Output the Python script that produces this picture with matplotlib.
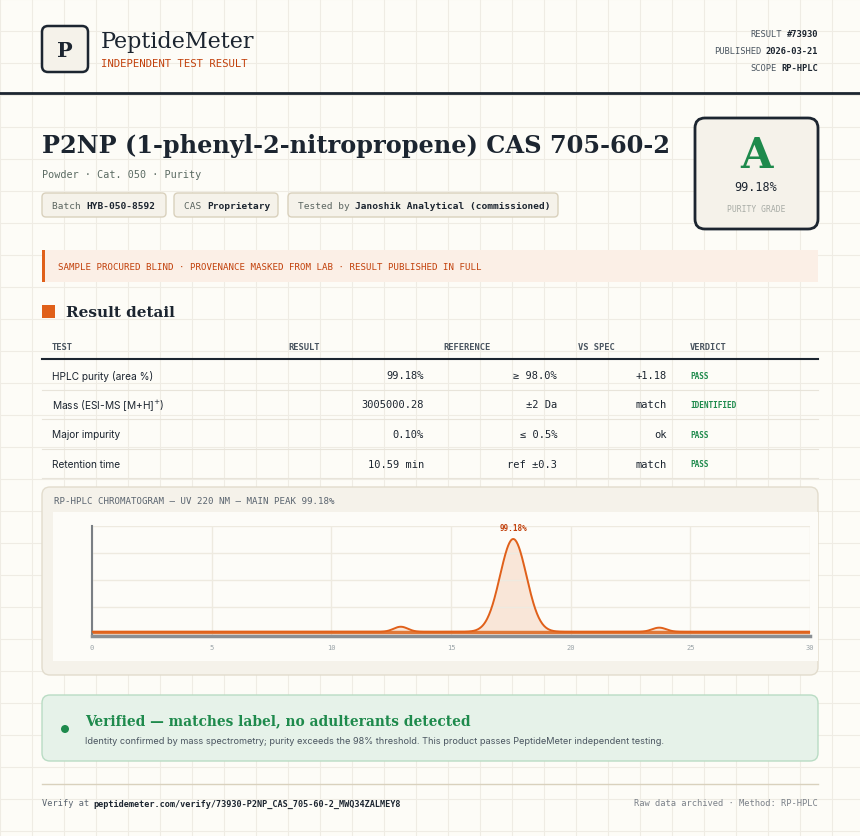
import numpy as np
import matplotlib.pyplot as plt
from matplotlib.patches import FancyBboxPatch, Rectangle, Circle

# ---- data ----
header_meta = [("RESULT", "#73930"), ("PUBLISHED", "2026-03-21"), ("SCOPE", "RP-HPLC")]
chips = [("Batch ", "HYB-050-8592"), ("CAS ", "Proprietary"), ("Tested by ", "Janoshik Analytical (commissioned)")]
table_cols = ["TEST", "RESULT", "REFERENCE", "VS SPEC", "VERDICT"]
tests = ["HPLC purity (area %)", "Mass (ESI-MS [M+H]$^{+}$)", "Major impurity", "Retention time"]
results = ["99.18%", "3005000.28", "0.10%", "10.59 min"]
references = ["\u2265 98.0%", "\u00b12 Da", "\u2264 0.5%", "ref \u00b10.3"]
vs_spec = ["+1.18", "match", "ok", "match"]
verdicts = ["PASS", "IDENTIFIED", "PASS", "PASS"]
# chromatogram peaks: (retention min, relative height, width)
peak_rt = [12.9, 17.6, 23.7]
peak_h = [0.055, 1.0, 0.045]
peak_w = [0.3, 0.55, 0.3]
x_ticks = [0, 5, 10, 15, 20, 25, 30]

DARK = "#1c2530"
ORANGE = "#e0601a"
GREEN = "#1e8a4c"
CARD = "#f5f2ea"
SERIF = "DejaVu Serif"
MONO = "DejaVu Sans Mono"
SANS = "Inter"

fig = plt.figure(figsize=(8.6, 8.37), dpi=100)
fig.patch.set_facecolor("#fdfcf7")
ax = fig.add_axes([0, 0, 1, 1])
ax.set_xlim(0, 860)
ax.set_ylim(837, 0)
ax.axis("off")

# background grid
for g in np.arange(0, 861, 32):
    ax.axvline(g, color="#efece4", lw=0.8, zorder=0)
for g in np.arange(0, 838, 32):
    ax.axhline(g, color="#efece4", lw=0.8, zorder=0)


def rbox(x0, y0, x1, y1, fc, ec, lw=1, r=4, z=1):
    ax.add_patch(FancyBboxPatch((x0, y0), x1 - x0, y1 - y0,
                                boxstyle=f"round,pad=0,rounding_size={r}",
                                fc=fc, ec=ec, lw=lw, zorder=z))


# header
rbox(42, 27, 88, 73, CARD, DARK, lw=1.8, r=6)
ax.text(65, 51, "P", family=SERIF, weight="bold", size=15, color=DARK, ha="center", va="center")
ax.text(101, 42, "PeptideMeter", family=SERIF, size=16, color=DARK, va="center")
ax.text(101, 64, "INDEPENDENT TEST RESULT", family=MONO, size=7.7, color="#c2410c", va="center")
for i, (k, v) in enumerate(header_meta):
    y = 34 + i * 17
    ax.text(818, y, v, family=MONO, weight="bold", size=6.3, color=DARK, ha="right", va="center")
    ax.text(818 - len(v) * 5.3 - 4, y, k, family=MONO, size=6.3, color="#4a5560", ha="right", va="center")
ax.plot([0, 860], [94, 94], color=DARK, lw=2, zorder=2)

# title block
ax.text(42, 146, "P2NP (1-phenyl-2-nitropropene) CAS 705-60-2", family=SERIF, weight="bold",
        size=17.3, color=DARK, va="center")
ax.text(42, 175, "Powder \u00b7 Cat. 050 \u00b7 Purity", family=MONO, size=7.3, color="#5b6b63", va="center")
chip_x = [(42, 166), (174, 278), (288, 558)]
for (x0, x1), (k, v) in zip(chip_x, chips):
    rbox(x0, 194, x1, 218, CARD, "#d9d1bd", lw=1, r=4)
    ax.text(x0 + 10, 206, k, family=MONO, size=6.8, color="#5b6560", va="center")
    ax.text(x0 + 10 + len(k) * 5.7, 206, v, family=MONO, weight="bold", size=6.8, color=DARK, va="center")

# grade card
rbox(695, 119, 818, 230, CARD, DARK, lw=2, r=10)
ax.text(756, 156, "A", family=SERIF, weight="bold", size=30, color=GREEN, ha="center", va="center")
ax.text(756, 187, "99.18%", family=MONO, size=8.5, color=DARK, ha="center", va="center")
ax.text(756, 209, "PURITY GRADE", family=MONO, size=5.8, color="#a8aca6", ha="center", va="center")

# warning band
ax.add_patch(Rectangle((42, 251), 776, 32, fc="#fbefe6", ec="none", zorder=1))
ax.add_patch(Rectangle((42, 251), 3, 32, fc=ORANGE, ec="none", zorder=2))
ax.text(58, 267, "SAMPLE PROCURED BLIND \u00b7 PROVENANCE MASKED FROM LAB \u00b7 RESULT PUBLISHED IN FULL",
        family=MONO, size=6.6, color="#c2410c", va="center")

# section header
ax.add_patch(Rectangle((42, 306), 13, 13, fc=ORANGE, ec="none", zorder=2))
ax.text(66, 313, "Result detail", family=SERIF, weight="bold", size=11, color=DARK, va="center")

# table
col_x = [52, 288, 443, 578, 690]
for cx, c in zip(col_x, table_cols):
    ax.text(cx, 347, c, family=MONO, weight="bold", size=6.3, color="#4a5560", va="center")
ax.plot([42, 818], [360, 360], color=DARK, lw=1.5)
for i in range(len(tests)):
    y = 376 + i * 29.5
    ax.text(52, y, tests[i], family=SANS, size=7.3, color=DARK, va="center")
    ax.text(424, y, results[i], family=MONO, size=7.5, color=DARK, ha="right", va="center")
    ax.text(557, y, references[i], family=MONO, size=7.5, color=DARK, ha="right", va="center")
    ax.text(667, y, vs_spec[i], family=MONO, size=7.5, color=DARK, ha="right", va="center")
    ax.text(690, y, verdicts[i], family=MONO, weight="bold", size=5.6, color=GREEN, va="center")
    ax.plot([42, 818], [y + 14.5, y + 14.5], color="#e8e4da", lw=0.8)

# chromatogram card
rbox(42, 488, 818, 676, CARD, "#e2dccd", lw=1, r=8)
ax.text(54, 502, "RP-HPLC CHROMATOGRAM \u2014 UV 220 NM \u2014 MAIN PEAK 99.18%", family=MONO,
        size=6.6, color="#5b6570", va="center")
ax.add_patch(Rectangle((53, 513), 765, 149, fc="#fdfcf8", ec="none", zorder=2))

cax = fig.add_axes([92 / 860, 1 - 637 / 837, 718 / 860, 110 / 837])
cax.set_facecolor("none")
t = np.linspace(0, 30, 1200)
signal = np.zeros_like(t)
for rt, h, w in zip(peak_rt, peak_h, peak_w):
    signal += h * np.exp(-0.5 * ((t - rt) / w) ** 2)
cax.fill_between(t, 0, signal, color="#f9e6d8", zorder=1)
cax.plot(t, signal, color=ORANGE, lw=1.4, zorder=3)
cax.plot([0, 30], [0, 0], color="#e07838", lw=2.5, zorder=2)
cax.set_xlim(0, 30)
cax.set_ylim(-0.045, 1.14)
cax.set_xticks(x_ticks)
cax.set_xticklabels([str(v) for v in x_ticks])
cax.set_yticks([0.27, 0.56, 0.85, 1.14])
cax.set_yticklabels([])
cax.grid(True, color="#eeeae0", lw=1)
cax.tick_params(length=0, labelsize=5, labelcolor="#9aa3a8", pad=6)
for lab in cax.get_xticklabels():
    lab.set_family(MONO)
for s in ["top", "right"]:
    cax.spines[s].set_visible(False)
cax.spines["left"].set_color("#7a7f84")
cax.spines["left"].set_linewidth(1.5)
cax.spines["bottom"].set_color("#8a8f94")
cax.spines["bottom"].set_linewidth(2.5)
cax.text(peak_rt[1], peak_h[1] + 0.07, "99.18%", family=MONO, weight="bold", size=5.5,
         color="#c2410c", ha="center", va="bottom")

# verified box
rbox(42, 696, 818, 762, "#e6f2e9", "#b9dcc4", lw=1, r=8)
ax.add_patch(Circle((65, 730), 4, fc=GREEN, ec="none", zorder=3))
ax.text(85, 721, "Verified \u2014 matches label, no adulterants detected", family=SERIF, weight="bold",
        size=9.9, color=GREEN, va="center")
ax.text(85, 742, "Identity confirmed by mass spectrometry; purity exceeds the 98% threshold. "
        "This product passes PeptideMeter independent testing.", family=SANS, size=6.6,
        color="#4a5560", va="center")

# footer
ax.plot([42, 818], [785, 785], color="#d9d1bd", lw=1)
ax.text(42, 804, "Verify at ", family=MONO, size=6.2, color="#5b6570", va="center")
ax.text(93, 804, "peptidemeter.com/verify/73930-P2NP_CAS_705-60-2_MWQ34ZALMEY8", family=MONO,
        weight="bold", size=6.1, color=DARK, va="center")
ax.text(818, 804, "Raw data archived \u00b7 Method: RP-HPLC", family=MONO, size=6.3,
        color="#7a8088", ha="right", va="center")

fig.savefig("out.png", dpi=100, facecolor=fig.get_facecolor())
